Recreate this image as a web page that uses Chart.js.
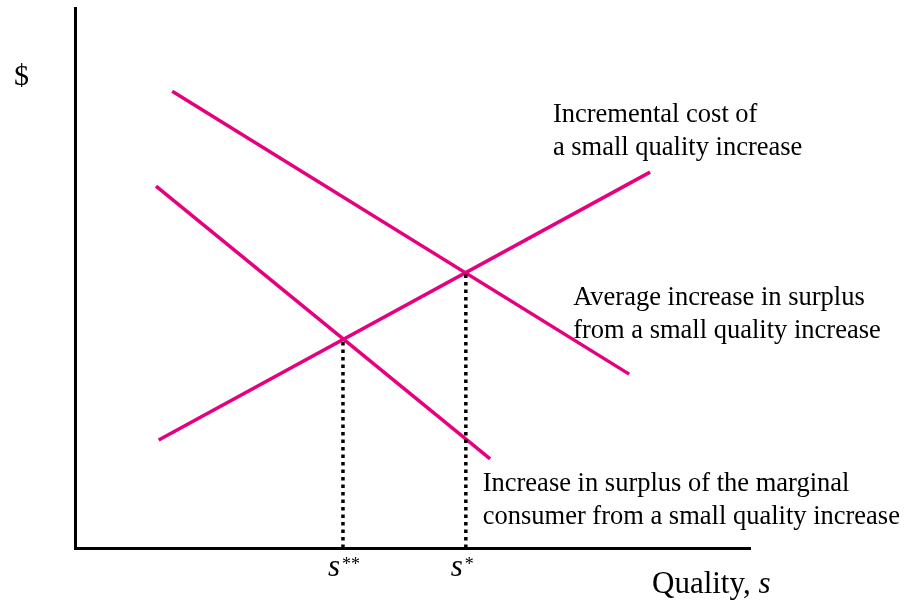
<!DOCTYPE html>
<html>
<head>
<meta charset="utf-8">
<script src="https://cdn.jsdelivr.net/npm/chart.js@4"></script>
<style>
html,body{margin:0;padding:0;background:#fff;}
canvas{display:block;}
</style>
</head>
<body>
<canvas id="c" width="905" height="608"></canvas>
<script>
// Conceptual diagram values (axis units 0..100)
const avgSurplusLine = [{x:14.4,y:84.6},{x:82.1,y:32.2}];
const marginalSurplusLine = [{x:12.0,y:67.0},{x:61.5,y:16.5}];
const incrementalCostLine = [{x:12.4,y:20.0},{x:85.2,y:69.6}];
const sStarStar = {x:39.7,y:38.6};
const sStar = {x:57.9,y:51.1};

const costLabel = ["Incremental cost of","a small quality increase"];
const avgLabel = ["Average increase in surplus","from a small quality increase"];
const marginalLabel = ["Increase in surplus of the marginal","consumer from a small quality increase"];
const xAxisLabel = "Quality, ";
const yAxisLabel = "$";

const MAG = '#e6007e';
const SERIF = '"Liberation Serif","DejaVu Serif",serif';

const textPlugin = {
  id:'texts',
  afterDraw(chart){
    const ctx = chart.ctx;
    const xs = chart.scales.x, ys = chart.scales.y;
    ctx.save();
    ctx.fillStyle = '#000';
    ctx.textBaseline = 'alphabetic';
    ctx.textAlign = 'left';
    ctx.font = '26.5px ' + SERIF;
    const block = (lines, dx, dy) => {
      const px = xs.getPixelForValue(dx), py = ys.getPixelForValue(dy);
      lines.forEach((t,i)=>ctx.fillText(t, px, py + i*33));
    };
    block(costLabel, 70.8, 78.9);
    block(avgLabel, 73.8, 45.0);
    block(marginalLabel, 60.4, 10.6);
    // y axis label
    ctx.font = '30px ' + SERIF;
    ctx.fillText(yAxisLabel, 14, 85);
    // x axis label
    const ca = chart.chartArea;
    ctx.font = '31px ' + SERIF;
    const w = ctx.measureText(xAxisLabel).width;
    ctx.fillText(xAxisLabel, 652, ca.bottom + 45);
    ctx.font = 'italic 31px ' + SERIF;
    ctx.fillText('s', 652 + w, ca.bottom + 45);
    // s** and s*
    const mark = (pt, stars) => {
      const px = xs.getPixelForValue(pt.x);
      ctx.font = 'italic 31px ' + SERIF;
      ctx.fillText('s', px - 15, ca.bottom + 28);
      ctx.font = '18px ' + SERIF;
      ctx.fillText(stars, px - 1, ca.bottom + 22);
    };
    mark(sStarStar, '**');
    mark(sStar, '*');
    ctx.restore();
  }
};

const lineDs = (data) => ({data, showLine:true, borderColor:MAG, borderWidth:3.5, pointRadius:0, borderCapStyle:'butt', fill:false});
const dotDs = (pt) => ({data:[{x:pt.x,y:0},{x:pt.x,y:pt.y}], showLine:true, borderColor:'#000', borderWidth:3.5, borderDash:[3.5,4], pointRadius:0, borderCapStyle:'butt', fill:false});

new Chart(document.getElementById('c'), {
  type:'scatter',
  data:{datasets:[
    dotDs(sStarStar), dotDs(sStar),
    lineDs(avgSurplusLine), lineDs(marginalSurplusLine), lineDs(incrementalCostLine)
  ]},
  options:{
    responsive:false, animation:false,
    layout:{padding:{left:75, right:155, top:8, bottom:60}},
    plugins:{legend:{display:false}, tooltip:{enabled:false}},
    scales:{
      x:{type:'linear', min:0, max:100, ticks:{display:false}, grid:{display:false, drawTicks:false}, border:{display:true, color:'#000', width:3}},
      y:{type:'linear', min:0, max:100, ticks:{display:false}, grid:{display:false, drawTicks:false}, border:{display:true, color:'#000', width:3}}
    }
  },
  plugins:[textPlugin]
});
</script>
</body>
</html>
